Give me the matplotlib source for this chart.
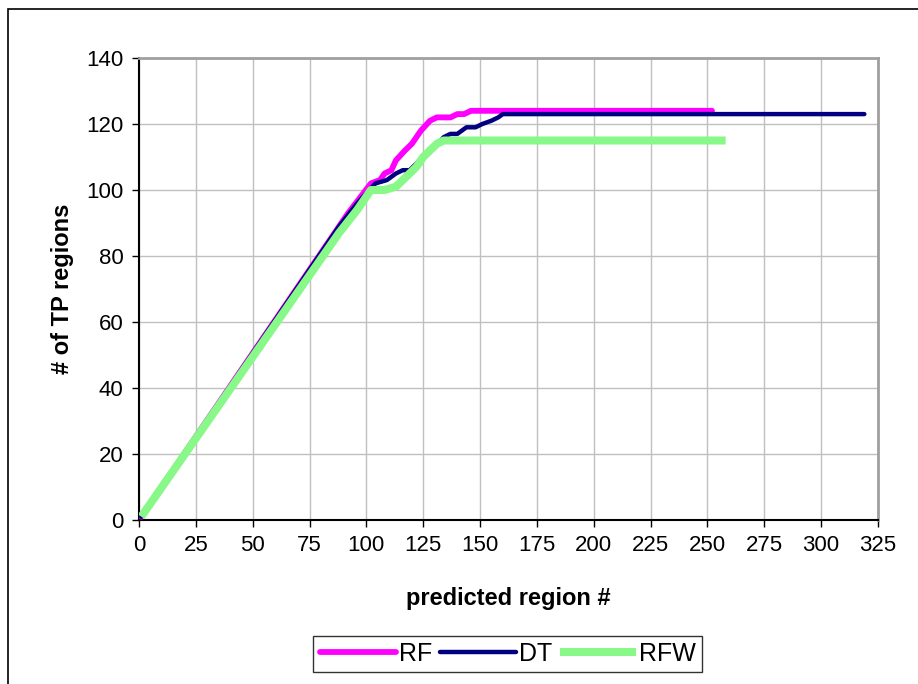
import matplotlib
matplotlib.use("Agg")
import matplotlib.pyplot as plt
from matplotlib.patches import Rectangle

plt.rcParams["font.family"] = ["Liberation Sans", "DejaVu Sans"]

# puntos de quiebre (region predicha, regiones TP acumuladas)
rf_x = [1, 92, 102, 106, 108, 111, 113, 117, 120, 124, 128, 131, 137, 140, 143, 146, 252]
rf_y = [1, 93, 102, 103, 105, 106, 109, 112, 114, 118, 121, 122, 122, 123, 123, 124, 124]

dt_x = [1, 88, 96, 104, 109, 113, 116, 119, 122, 126, 130, 134, 137, 140, 144, 148, 151, 155, 158, 160, 319]
dt_y = [1, 89, 96, 102, 103, 105, 106, 106, 108, 111, 113, 116, 117, 117, 119, 119, 120, 121, 122, 123, 123]

rfw_x = [1, 88, 96, 102, 108, 113, 116, 119, 122, 125, 128, 131, 134, 137, 258]
rfw_y = [1, 87, 94, 100, 100, 101, 103, 105, 107, 110, 112, 114, 115, 115, 115]

x_ticks = list(range(0, 326, 25))
y_ticks = list(range(0, 141, 20))

fig = plt.figure(figsize=(9.18, 6.84), dpi=100)
ax = fig.add_axes([0.1514, 0.2398, 0.805, 0.6754])

ax.plot(rf_x, rf_y, color="#FF00FF", lw=4.2, solid_capstyle="round", label="RF", zorder=3)
ax.plot(dt_x, dt_y, color="#000080", lw=3.2, solid_capstyle="round", label="DT", zorder=4)
ax.plot(rfw_x, rfw_y, color="#88F888", lw=5.8, solid_capstyle="butt", label="RFW", zorder=5)

ax.set_xlim(0, 325)
ax.set_ylim(0, 140)
ax.set_xticks(x_ticks)
ax.set_yticks(y_ticks)
ax.grid(True, color="#C0C0C0", lw=1.0)
ax.set_axisbelow(True)
ax.tick_params(direction="out", length=5, width=1, labelsize=16, pad=6)

for s in ["left", "bottom"]:
    ax.spines[s].set_color("black")
    ax.spines[s].set_linewidth(1.5)
for s in ["top", "right"]:
    ax.spines[s].set_color("#A0A0A0")
    ax.spines[s].set_linewidth(2)

ax.set_xlabel("predicted region #", fontsize=17, fontweight="bold", labelpad=22)
ax.set_ylabel("# of TP regions", fontsize=17, fontweight="bold", labelpad=9)

leg = fig.legend(loc="center", bbox_to_anchor=(0.553, 0.044), ncol=3, fontsize=18,
                 frameon=True, fancybox=False, handlelength=3.05, handletextpad=0.12,
                 columnspacing=0.3, borderpad=0.25)
leg.get_frame().set_edgecolor("black")
leg.get_frame().set_linewidth(1.0)

# borde exterior del area del grafico
fig.patches.append(Rectangle((8 / 918, -0.1), 1.1, 1 - 9 / 684 + 0.1, transform=fig.transFigure,
                             fill=False, edgecolor="black", lw=1.2))

fig.savefig("out.png", dpi=100)
